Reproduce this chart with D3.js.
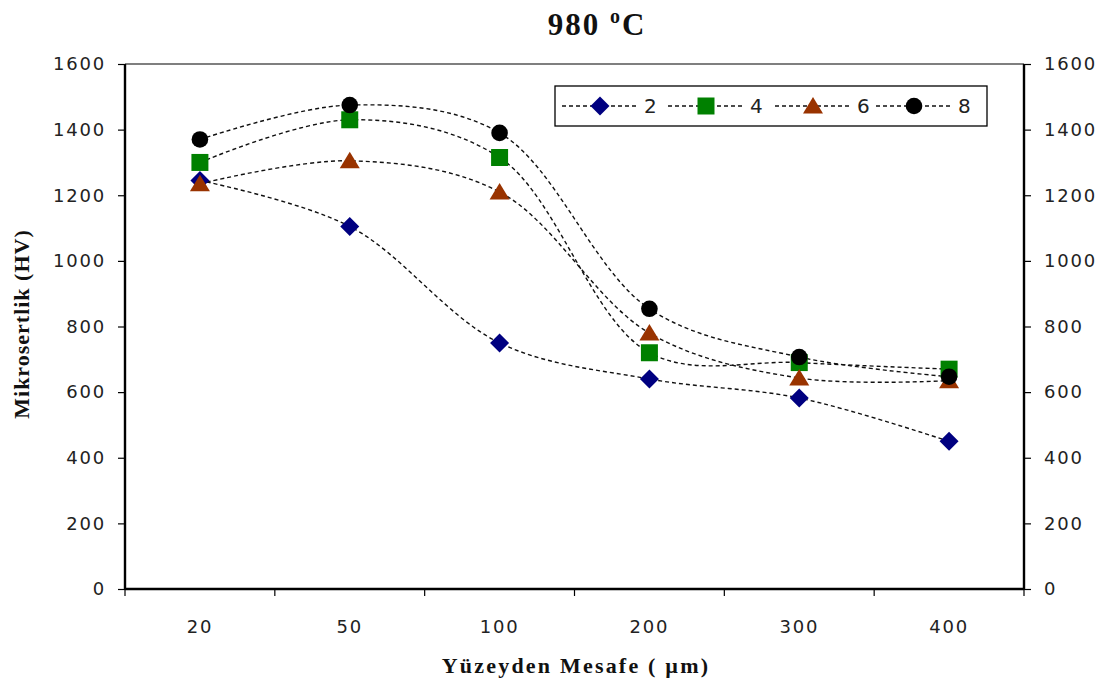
<!DOCTYPE html>
<html>
<head>
<meta charset="utf-8">
<script src="https://cdn.jsdelivr.net/npm/d3@7"></script>
<style>
  html, body { margin: 0; padding: 0; background: #fff; }
  svg { display: block; }
</style>
</head>
<body>
<svg id="chart" width="1109" height="685"></svg>
<script>
// Distance from surface (µm) categories
const categories = ["20", "50", "100", "200", "300", "400"];
// Microhardness (HV) for each series
const series2 = [1245, 1105, 750, 640, 582, 450];
const series4 = [1300, 1430, 1315, 720, 690, 670];
const series6 = [1235, 1305, 1210, 780, 643, 635];
const series8 = [1370, 1475, 1390, 854, 707, 647];
const seriesNames = ["2", "4", "6", "8"];
const yTicks = [0, 200, 400, 600, 800, 1000, 1200, 1400, 1600];

const seriesData = [series2, series4, series6, series8];
const markerFill = ["#000080", "#008000", "#993300", "#000000"];

// Marker path generators (centred on 0,0)
const markerPath = [
  () => "M0,-9.5L9.5,0L0,9.5L-9.5,0Z",                 // diamond
  () => "M-8.5,-8.5H8.5V8.5H-8.5Z",                     // square
  () => "M0,-9L10,7.5H-10Z",                            // triangle
  () => d3.arc()({ innerRadius: 0, outerRadius: 8.3, startAngle: 0, endAngle: 2 * Math.PI }) // circle
];

const svg = d3.select("#chart");
const margin = { left: 125, right: 1024, top: 64, bottom: 589 };

const x = d3.scaleBand().domain(categories).range([margin.left, margin.right]);
const y = d3.scaleLinear().domain([0, 1600]).range([margin.bottom, margin.top]);

const tickFont = "'DejaVu Sans', Verdana, sans-serif";
const serif = "'Liberation Serif', 'Times New Roman', serif";

// Top frame line
svg.append("line")
  .attr("x1", margin.left).attr("x2", margin.right)
  .attr("y1", margin.top).attr("y2", margin.top)
  .attr("stroke", "#000").attr("stroke-width", 1.2);

// Left axis
const gl = svg.append("g").attr("transform", `translate(${margin.left},0)`)
  .call(d3.axisLeft(y).tickValues(yTicks).tickSize(7).tickPadding(12).tickFormat(d3.format("d")));
// Right axis
const gr = svg.append("g").attr("transform", `translate(${margin.right},0)`)
  .call(d3.axisRight(y).tickValues(yTicks).tickSize(7).tickPadding(13).tickFormat(d3.format("d")));
// Bottom axis: ticks between categories
const gb = svg.append("g").attr("transform", `translate(0,${margin.bottom})`)
  .call(d3.axisBottom(x).tickSize(0).tickPadding(31));
const bounds = categories.map(c => x(c)).concat([margin.right]);
gb.selectAll(".sep").data(bounds).enter().append("line")
  .attr("class", "sep")
  .attr("x1", d => d).attr("x2", d => d)
  .attr("y1", 0).attr("y2", 7)
  .attr("stroke", "#000").attr("stroke-width", 1.2);

[gl, gr, gb].forEach(g => {
  g.select(".domain").attr("stroke", "#000").attr("stroke-width", 2.4);
  g.selectAll(".tick line").attr("stroke", "#000").attr("stroke-width", 1.2);
  g.selectAll("text").attr("font-family", tickFont).attr("font-size", 18)
    .attr("letter-spacing", 1.8).attr("fill", "#222");
});
gb.select(".domain").attr("d", `M${margin.left},0H${margin.right}`);
gl.select(".domain").attr("d", `M0,${margin.top}V${margin.bottom}`);
gr.select(".domain").attr("d", `M0,${margin.top}V${margin.bottom}`);

// Series lines
const line = d3.line()
  .x((d, i) => x(categories[i]) + x.bandwidth() / 2)
  .y(d => y(d))
  .curve(d3.curveCatmullRom.alpha(0.5));

seriesData.forEach(vals => {
  svg.append("path")
    .attr("d", line(vals))
    .attr("fill", "none")
    .attr("stroke", "#111")
    .attr("stroke-width", 1.4)
    .attr("stroke-dasharray", "4,3");
});

// Markers
seriesData.forEach((vals, s) => {
  svg.append("g").selectAll("path").data(vals).enter().append("path")
    .attr("transform", (d, i) => `translate(${x(categories[i]) + x.bandwidth() / 2},${y(d)})`)
    .attr("d", markerPath[s]())
    .attr("fill", markerFill[s]);
});

// Legend
const legend = svg.append("g");
legend.append("rect")
  .attr("x", 555).attr("y", 86).attr("width", 432).attr("height", 40)
  .attr("fill", "#fff").attr("stroke", "#000").attr("stroke-width", 1.3);
const legX = [562, 668, 775, 876];
seriesNames.forEach((name, s) => {
  const x0 = legX[s];
  legend.append("line")
    .attr("x1", x0).attr("x2", x0 + 77).attr("y1", 106).attr("y2", 106)
    .attr("stroke", "#111").attr("stroke-width", 1.4).attr("stroke-dasharray", "4,3");
  legend.append("path")
    .attr("transform", `translate(${x0 + 38},106)`)
    .attr("d", markerPath[s]())
    .attr("fill", markerFill[s]);
  legend.append("text")
    .attr("x", x0 + 82).attr("y", 113)
    .attr("font-family", tickFont).attr("font-size", 20).attr("fill", "#222")
    .text(name);
});

// Title
const title = svg.append("text")
  .attr("x", 597).attr("y", 35)
  .attr("text-anchor", "middle")
  .attr("font-family", serif).attr("font-weight", "bold").attr("font-size", 31)
  .attr("letter-spacing", 2)
  .attr("fill", "#111");
title.append("tspan").text("980 ");
title.append("tspan").attr("font-size", 20).attr("dy", -12).text("o");
title.append("tspan").attr("dy", 12).text("C");

// Axis titles
svg.append("text")
  .attr("transform", "translate(29,324) rotate(-90)")
  .attr("text-anchor", "middle")
  .attr("font-family", serif).attr("font-weight", "bold").attr("font-size", 22)
  .attr("letter-spacing", 1)
  .attr("fill", "#111")
  .text("Mikrosertlik (HV)");

svg.append("text")
  .attr("x", 576).attr("y", 673)
  .attr("text-anchor", "middle")
  .attr("font-family", serif).attr("font-weight", "bold").attr("font-size", 22)
  .attr("letter-spacing", 2.2)
  .attr("fill", "#111")
  .text("Yüzeyden Mesafe ( µm)");
</script>
</body>
</html>
